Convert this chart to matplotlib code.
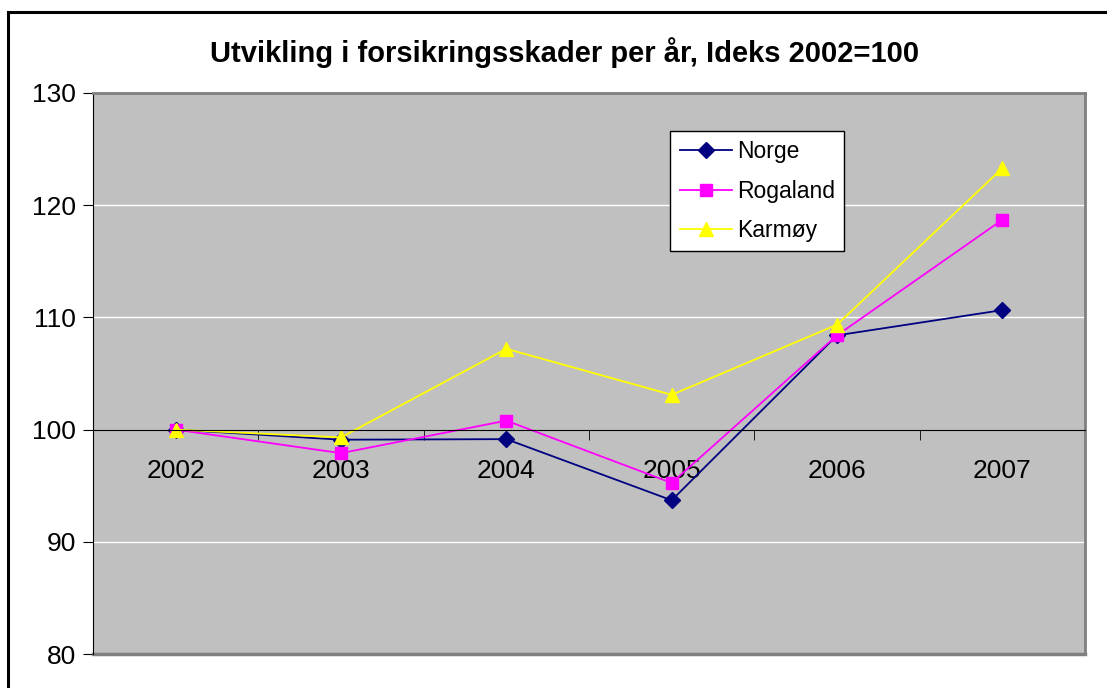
import numpy as np
import matplotlib
matplotlib.use('Agg')
import matplotlib.pyplot as plt
from matplotlib.patches import Rectangle

# data
years = ['2002', '2003', '2004', '2005', '2006', '2007']
norge = [100, 99.1, 99.15, 93.7, 108.4, 110.65]
rogaland = [100, 97.9, 100.8, 95.25, 108.4, 118.7]
karmoy = [100, 99.3, 107.2, 103.1, 109.35, 123.3]

plt.rcParams['font.family'] = ['Liberation Sans', 'DejaVu Sans']

fig = plt.figure(figsize=(11.07, 6.88), dpi=100)
ax = fig.add_axes([93/1107, 1 - 654/688, 992/1107, 561/688])
ax.set_facecolor('#C0C0C0')

x = np.arange(len(years))
ax.plot(x, norge, color='#000080', lw=1.3, marker='D', ms=8, label='Norge')
ax.plot(x, rogaland, color='#FF00FF', lw=1.3, marker='s', ms=8, label='Rogaland')
ax.plot(x, karmoy, color='#FFFF00', lw=1.3, marker='^', ms=10, label='Karmøy')

ax.set_xlim(-0.5, 5.5)
ax.set_ylim(80, 130)
ax.set_yticks(range(80, 131, 10))
for g in [90, 110, 120]:
    ax.axhline(g, color='white', lw=1, zorder=0.5)

# x axis crosses at 100
ax.spines['bottom'].set_position(('data', 100))
ax.spines['bottom'].set_color('black')
ax.spines['left'].set_color('black')
for s in ['top', 'right']:
    ax.spines[s].set_color('#808080')
    ax.spines[s].set_linewidth(2)
ax.axhline(80, color='#808080', lw=2.5, clip_on=False)

ax.set_xticks(x)
ax.set_xticklabels(years)
ax.set_xticks(np.arange(-0.5, 6, 1), minor=True)
ax.tick_params(axis='x', which='major', length=0, pad=21, labelsize=19)
ax.tick_params(axis='x', which='minor', length=7, direction='out')
ax.tick_params(axis='y', length=7, direction='out', labelsize=19, pad=5)

leg = ax.legend(loc='upper left', bbox_to_anchor=(0.582, 0.932), fontsize=16.5,
                frameon=True, fancybox=False, framealpha=1, edgecolor='black',
                handlelength=2.3, borderpad=0.4, labelspacing=0.72,
                handletextpad=0.2, borderaxespad=0)
leg.get_frame().set_linewidth(1)

fig.text(565/1107, 1 - 53/688, 'Utvikling i forsikringsskader per år, Ideks 2002=100',
         ha='center', va='center', fontsize=21, fontweight='bold')

top = 1 - 12/688
fig.patches.append(Rectangle((8/1107, -0.2), 1.2, top + 0.2, transform=fig.transFigure,
                             fill=False, edgecolor='black', lw=2.2))

fig.savefig('out.png', dpi=100)
